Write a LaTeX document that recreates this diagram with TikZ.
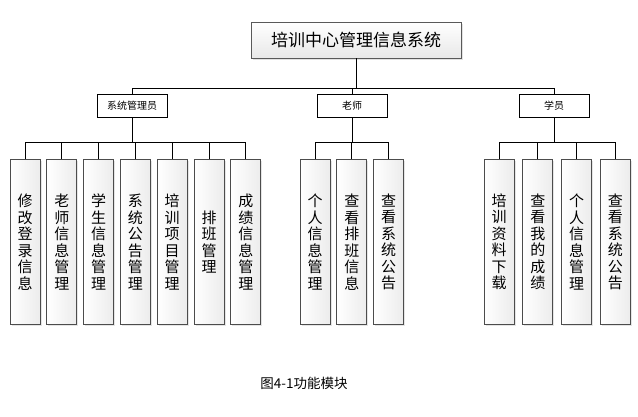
\documentclass[tikz,border=0pt]{standalone}
\usepackage{fontspec}
\newfontfamily\cjk{Noto Sans CJK SC}
\usepackage{tikz}
\usetikzlibrary{positioning, shadows}

\tikzset{
  topbox/.style={draw=gray!70!black, top color=white, bottom color=gray!18,
    minimum width=210pt, minimum height=36pt,
    font=\cjk\fontsize{17}{19}\selectfont,
    drop shadow={shadow xshift=2pt, shadow yshift=-2pt, fill=gray!45}},
  rolebox/.style={draw=black, fill=white, minimum width=70pt, minimum height=23pt,
    inner sep=0pt, font=\cjk\fontsize{10}{12}\selectfont},
  funcbox/.style={draw=gray!60!black, left color=white, right color=gray!15,
    minimum width=30pt, minimum height=165pt, inner sep=0pt, align=center,
    font=\cjk\fontsize{15}{16.5}\selectfont,
    drop shadow={shadow xshift=1.5pt, shadow yshift=-1.5pt, fill=gray!40}},
}

\begin{document}
\begin{tikzpicture}[x=1pt, y=-1pt, node distance=6pt, line width=0.8pt]
  \useasboundingbox (0,0) rectangle (638,417);
  % root and roles
  \node[topbox] (root) at (356,40) {培训中心管理信息系统};
  \node[rolebox] (admin) at (132,106) {系统管理员};
  \node[rolebox] (teacher) at (352,106) {老师};
  \node[rolebox] (student) at (554,106) {学员};

  % admin functions
  \node[funcbox] (a1) at (25,242) {修\\改\\登\\录\\信\\息};
  \node[funcbox, right=of a1] (a2) {老\\师\\信\\息\\管\\理};
  \node[funcbox, right=of a2] (a3) {学\\生\\信\\息\\管\\理};
  \node[funcbox, right=of a3] (a4) {系\\统\\公\\告\\管\\理};
  \node[funcbox, right=of a4] (a5) {培\\训\\项\\目\\管\\理};
  \node[funcbox, right=of a5] (a6) {排\\班\\管\\理};
  \node[funcbox, right=of a6] (a7) {成\\绩\\信\\息\\管\\理};

  % teacher functions
  \node[funcbox] (t1) at (315,242) {个\\人\\信\\息\\管\\理};
  \node[funcbox, right=of t1] (t2) {查\\看\\排\\班\\信\\息};
  \node[funcbox, right=of t2] (t3) {查\\看\\系\\统\\公\\告};

  % student functions
  \node[funcbox] (s1) at (499,242) {培\\训\\资\\料\\下\\载};
  \node[funcbox, right=8pt of s1] (s2) {查\\看\\我\\的\\成\\绩};
  \node[funcbox, right=8pt of s2] (s3) {个\\人\\信\\息\\管\\理};
  \node[funcbox, right=8pt of s3] (s4) {查\\看\\系\\统\\公\\告};

  \node[font=\cjk\fontsize{13.5}{15}\selectfont] (cap) at (304,383) {图4-1功能模块};

  % connectors
  \coordinate (rbus) at (356,88);
  \coordinate (abus) at (132,142);
  \coordinate (tbus) at (352,142);
  \coordinate (sbus) at (554,142);
  \draw (root) -- (rbus);
  \foreach \n in {admin, teacher, student}
    \draw (\n.north) |- (rbus);
  \draw (admin) -- (abus);
  \foreach \n in {a1, a2, a3, a4, a5, a6, a7}
    \draw (\n.north) |- (abus);
  \draw (teacher) -- (tbus);
  \foreach \n in {t1, t2, t3}
    \draw (\n.north) |- (tbus);
  \draw (student) -- (sbus);
  \foreach \n in {s1, s2, s3, s4}
    \draw (\n.north) |- (sbus);
\end{tikzpicture}
\end{document}
